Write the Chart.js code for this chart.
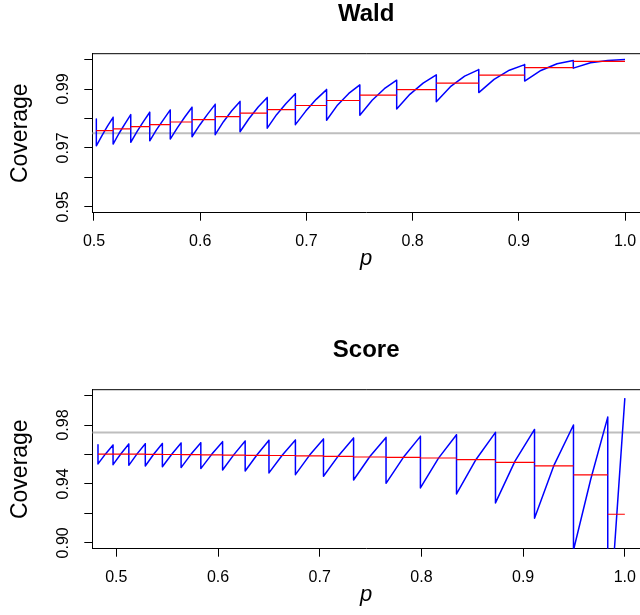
<!DOCTYPE html>
<html>
<head>
<meta charset="utf-8">
<script src="https://cdn.jsdelivr.net/npm/chart.js@4.4.1/dist/chart.umd.min.js"></script>
<style>
  html, body { margin: 0; padding: 0; background: #fff; overflow: hidden; }
  .panel { position: absolute; left: 0; width: 640px; height: 300px; }
  #waldBox { top: 0; }
  #scoreBox { top: 336px; }
</style>
</head>
<body>
<div class="panel" id="waldBox"><canvas id="waldChart"></canvas></div>
<div class="panel" id="scoreBox"><canvas id="scoreChart"></canvas></div>
<script>
// Wald panel: jump points, coverage just before / after each jump, points inside each tooth, mean level
const waldJumps = [0.5022, 0.5180, 0.5346, 0.5525, 0.5718, 0.5923, 0.6141, 0.6375, 0.6631, 0.6896, 0.7190, 0.7503, 0.7850, 0.8223, 0.8623, 0.9055, 0.9513, 1.0000];
const waldBefore = [0.9798, 0.9804, 0.9813, 0.9821, 0.9829, 0.9838, 0.9848, 0.9858, 0.9871, 0.9884, 0.9898, 0.9914, 0.9930, 0.9948, 0.9966, 0.9983, 0.9997, 1.0000];
const waldAfter = [0.9707, 0.9713, 0.9719, 0.9724, 0.9730, 0.9738, 0.9745, 0.9755, 0.9767, 0.9779, 0.9794, 0.9811, 0.9832, 0.9857, 0.9888, 0.9927, 0.9971];
const waldInnerP = [[0.5075, 0.5127], [0.5235, 0.5291], [0.5406, 0.5465], [0.5589, 0.5654], [0.5786, 0.5855], [0.5996, 0.6068], [0.6219, 0.6297], [0.6460, 0.6546], [0.6719, 0.6808], [0.6994, 0.7092], [0.7294, 0.7399], [0.7619, 0.7734], [0.7974, 0.8099], [0.8356, 0.8490], [0.8767, 0.8911], [0.9208, 0.9360], [0.9675, 0.9838]];
const waldInner = [[0.9742, 0.9774], [0.9749, 0.9782], [0.9756, 0.9789], [0.9762, 0.9796], [0.9769, 0.9805], [0.9778, 0.9814], [0.9789, 0.9826], [0.9800, 0.9839], [0.9813, 0.9851], [0.9825, 0.9865], [0.9846, 0.9885], [0.9862, 0.9901], [0.9882, 0.9920], [0.9908, 0.9944], [0.9933, 0.9964], [0.9963, 0.9986], [0.9989, 0.9997]];
const waldMean = [0.9759, 0.9765, 0.9772, 0.9779, 0.9788, 0.9796, 0.9806, 0.9818, 0.9830, 0.9844, 0.9861, 0.9879, 0.9898, 0.9920, 0.9947, 0.9973, 0.9994];

// Score panel
const scoreJumps = [0.4820, 0.4968, 0.5123, 0.5285, 0.5453, 0.5637, 0.5831, 0.6045, 0.6267, 0.6501, 0.6761, 0.7037, 0.7333, 0.7652, 0.7990, 0.8345, 0.8728, 0.9112, 0.9495, 0.9832, 1.0000];
const scoreBefore = [0.9666, 0.9664, 0.9671, 0.9673, 0.9675, 0.9678, 0.9680, 0.9687, 0.9692, 0.9696, 0.9698, 0.9705, 0.9712, 0.9716, 0.9723, 0.9734, 0.9750, 0.9770, 0.9800, 0.9854, 0.9983];
const scoreAfter = [0.9536, 0.9531, 0.9526, 0.9522, 0.9517, 0.9511, 0.9504, 0.9495, 0.9488, 0.9475, 0.9463, 0.9452, 0.9427, 0.9404, 0.9373, 0.9332, 0.9271, 0.9167, 0.8950, 0.8300];
const scoreInnerP = [0.4894, 0.5046, 0.5204, 0.5369, 0.5545, 0.5734, 0.5938, 0.6156, 0.6384, 0.6631, 0.6899, 0.7185, 0.7493, 0.7821, 0.8168, 0.8537, 0.8920, 0.9304, 0.9664, 0.9916];
const scoreInner = [0.9604, 0.9605, 0.9604, 0.9603, 0.9602, 0.9601, 0.9601, 0.9599, 0.9598, 0.9595, 0.9594, 0.9592, 0.9586, 0.9579, 0.9575, 0.9566, 0.9555, 0.9528, 0.9430, 0.9142];
const scoreMean = [0.9603, 0.9603, 0.9602, 0.9601, 0.9600, 0.9599, 0.9597, 0.9596, 0.9594, 0.9593, 0.9590, 0.9587, 0.9583, 0.9580, 0.9576, 0.9565, 0.9546, 0.9522, 0.9461, 0.9194];

const nominal = 0.975;

// axes
const xTicks = [0.5, 0.6, 0.7, 0.8, 0.9, 1.0];
const waldYTicks = [0.95, 0.96, 0.97, 0.98, 0.99, 1.00];
const waldYLabels = ['0.95', '', '0.97', '', '0.99', ''];
const scoreYTicks = [0.90, 0.92, 0.94, 0.96, 0.98, 1.00];
const scoreYLabels = ['0.90', '', '0.94', '', '0.98', ''];

const FONT = "'Liberation Sans', Arial, Helvetica, sans-serif";
Chart.defaults.font.family = FONT;
Chart.defaults.color = '#000';

function sawtooth(jumps, before, after, innerP, inner) {
  const pts = [{ x: jumps[0], y: before[0] }];
  for (let i = 0; i < after.length; i++) {
    pts.push({ x: jumps[i], y: after[i] });
    const ps = [].concat(innerP[i]);
    const vs = [].concat(inner[i]);
    ps.forEach((p, k) => pts.push({ x: p, y: vs[k] }));
    pts.push({ x: jumps[i + 1], y: before[i + 1] });
  }
  return pts;
}

function steps(jumps, means) {
  const pts = [];
  means.forEach((m, i) => {
    pts.push({ x: jumps[i], y: m }, { x: jumps[i + 1], y: m }, { x: jumps[i + 1], y: null });
  });
  return pts;
}

// top edge of the box (right edge is off the page)
const topEdge = {
  id: 'topEdge',
  afterDraw(chart) {
    const { ctx, chartArea: a } = chart;
    ctx.save();
    ctx.strokeStyle = '#000';
    ctx.lineWidth = 1;
    ctx.beginPath();
    ctx.moveTo(a.left, a.top);
    ctx.lineTo(a.right, a.top);
    ctx.stroke();
    ctx.restore();
  }
};

const axisGrid = { drawOnChartArea: false, drawTicks: true, tickLength: 8, color: '#000', tickColor: '#000', tickWidth: 1 };
const axisBorder = { display: true, color: '#000', width: 1 };

function makePanel(id, title, xMin, xMax, yMin, yMax, yTicks, yLabels, blue, red) {
  return new Chart(document.getElementById(id), {
    type: 'line',
    data: {
      datasets: [
        { data: red, borderColor: '#ff0000', borderWidth: 1.2, order: 0 },
        { data: blue, borderColor: '#0000ff', borderWidth: 1.5, order: 1 },
        { data: [{ x: xMin, y: nominal }, { x: xMax, y: nominal }], borderColor: '#bebebe', borderWidth: 2, order: 2 }
      ]
    },
    options: {
      responsive: true,
      maintainAspectRatio: false,
      animation: false,
      events: [],
      layout: { padding: { top: 0, left: 0, right: 0, bottom: 28.3 } },
      elements: {
        point: { radius: 0 },
        line: { tension: 0, borderJoinStyle: 'round', fill: false }
      },
      plugins: {
        legend: { display: false },
        tooltip: { enabled: false },
        title: {
          display: true,
          text: title,
          fullSize: false,
          font: { size: 24, weight: 'bold' },
          padding: { top: 0, bottom: 24.9 }
        }
      },
      scales: {
        x: {
          type: 'linear',
          min: xMin,
          max: xMax,
          afterBuildTicks: s => { s.ticks = xTicks.map(v => ({ value: v })); },
          afterFit: s => { s.paddingLeft = 0; s.paddingRight = 0; },
          grid: axisGrid,
          border: axisBorder,
          ticks: {
            autoSkip: false, minRotation: 0, maxRotation: 0, padding: 10.9,
            font: { size: 16 },
            callback: v => v.toFixed(1)
          },
          title: {
            display: true, text: 'p',
            font: { size: 22, style: 'italic' },
            padding: { top: -16.4, bottom: 0 }
          }
        },
        y: {
          type: 'linear',
          min: yMin,
          max: yMax,
          afterBuildTicks: s => { s.ticks = yTicks.map(v => ({ value: v })); },
          afterFit: s => { s.width = 92.3; s.paddingTop = 0; s.paddingBottom = 0; },
          grid: axisGrid,
          border: axisBorder,
          ticks: {
            autoSkip: false, minRotation: 90, maxRotation: 90, crossAlign: 'center', padding: 5.2,
            font: { size: 16 },
            callback: (v, i) => yLabels[i]
          },
          title: {
            display: true, text: 'Coverage',
            font: { size: 23 },
            padding: { top: 6.7, bottom: 0 }
          }
        }
      }
    },
    plugins: [topEdge]
  });
}

makePanel('waldChart', 'Wald', 0.4984, 1.0141, 0.948, 1.002, waldYTicks, waldYLabels,
  sawtooth(waldJumps, waldBefore, waldAfter, waldInnerP, waldInner), steps(waldJumps, waldMean));

makePanel('scoreChart', 'Score', 0.4764, 1.0149, 0.896, 1.004, scoreYTicks, scoreYLabels,
  sawtooth(scoreJumps, scoreBefore, scoreAfter, scoreInnerP, scoreInner), steps(scoreJumps, scoreMean));
</script>
</body>
</html>
